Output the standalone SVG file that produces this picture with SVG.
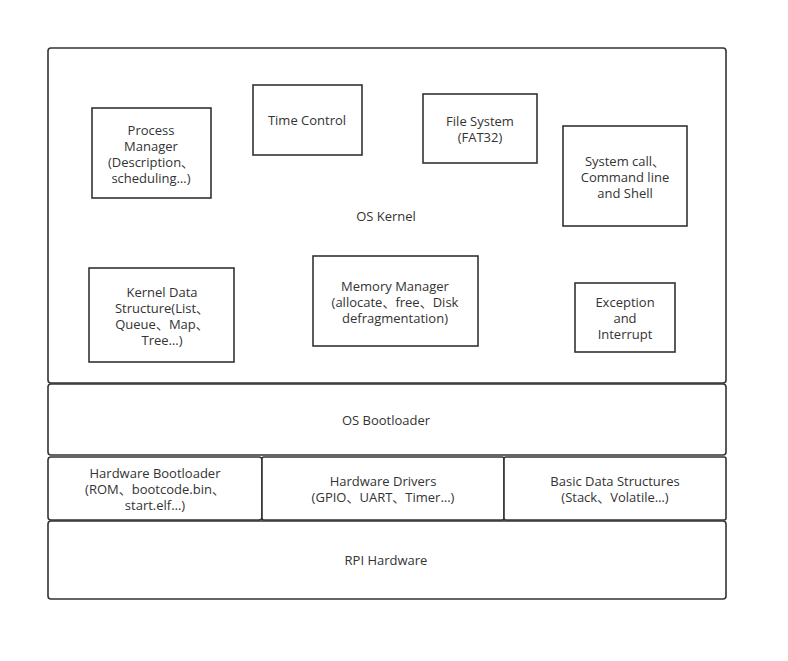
<svg xmlns="http://www.w3.org/2000/svg" width="788" height="661" viewBox="0 0 788 661">
<style>
.box{fill:#fff;stroke:#333;stroke-width:1.6}
.layer{fill:#fff;stroke:#333;stroke-width:1.6}
text{font-family:"Open Sans","Noto Sans CJK SC",sans-serif;font-size:13px;fill:#333;text-anchor:middle}
</style>
<rect width="788" height="661" fill="#fff"/>
<g id="os-kernel">
<rect class="layer" x="48" y="48" width="678" height="335" rx="3"/>
<text x="386" y="221">OS Kernel</text>
</g>
<g id="process-manager">
<rect class="box" x="92" y="108" width="119" height="90"/>
<text x="151" y="135">Process</text>
<text x="151" y="151">Manager</text>
<text x="151" y="167">(Description、</text>
<text x="151" y="183">scheduling…)</text>
</g>
<g id="time-control">
<rect class="box" x="253" y="85" width="109" height="70"/>
<text x="307" y="125">Time Control</text>
</g>
<g id="file-system">
<rect class="box" x="423" y="94" width="114" height="69"/>
<text x="480" y="126">File System</text>
<text x="480" y="142">(FAT32)</text>
</g>
<g id="system-call">
<rect class="box" x="563" y="126" width="124" height="100"/>
<text x="625" y="166">System call、</text>
<text x="625" y="182">Command line</text>
<text x="625" y="198">and Shell</text>
</g>
<g id="kernel-data-structure">
<rect class="box" x="89" y="268" width="145" height="94"/>
<text x="162" y="297">Kernel Data</text>
<text x="162" y="313">Structure(List、</text>
<text x="162" y="329">Queue、Map、</text>
<text x="162" y="345">Tree…)</text>
</g>
<g id="memory-manager">
<rect class="box" x="313" y="256" width="165" height="90"/>
<text x="395" y="291">Memory Manager</text>
<text x="395" y="307">(allocate、free、Disk</text>
<text x="395" y="323">defragmentation)</text>
</g>
<g id="exception">
<rect class="box" x="575" y="283" width="100" height="69"/>
<text x="625" y="307">Exception</text>
<text x="625" y="323">and</text>
<text x="625" y="339">Interrupt</text>
</g>
<g id="os-bootloader">
<rect class="layer" x="48" y="384" width="678" height="71" rx="3"/>
<text x="386" y="425">OS Bootloader</text>
</g>
<g id="hardware-bootloader">
<rect class="layer" x="48" y="457" width="214" height="63" rx="3"/>
<text x="155" y="478">Hardware Bootloader</text>
<text x="155" y="494">(ROM、bootcode.bin、</text>
<text x="155" y="510">start.elf…)</text>
</g>
<g id="hardware-drivers">
<rect class="layer" x="262" y="457" width="242" height="63" rx="2"/>
<text x="383" y="486">Hardware Drivers</text>
<text x="383" y="502">(GPIO、UART、Timer…)</text>
</g>
<g id="basic-data-structures">
<rect class="layer" x="504" y="457" width="222" height="63" rx="2"/>
<text x="615" y="486">Basic Data Structures</text>
<text x="615" y="502">(Stack、Volatile…)</text>
</g>
<g id="rpi-hardware">
<rect class="layer" x="48" y="521" width="678" height="78" rx="3"/>
<text x="386" y="565">RPI Hardware</text>
</g>
<g id="connectors"></g>
</svg>
